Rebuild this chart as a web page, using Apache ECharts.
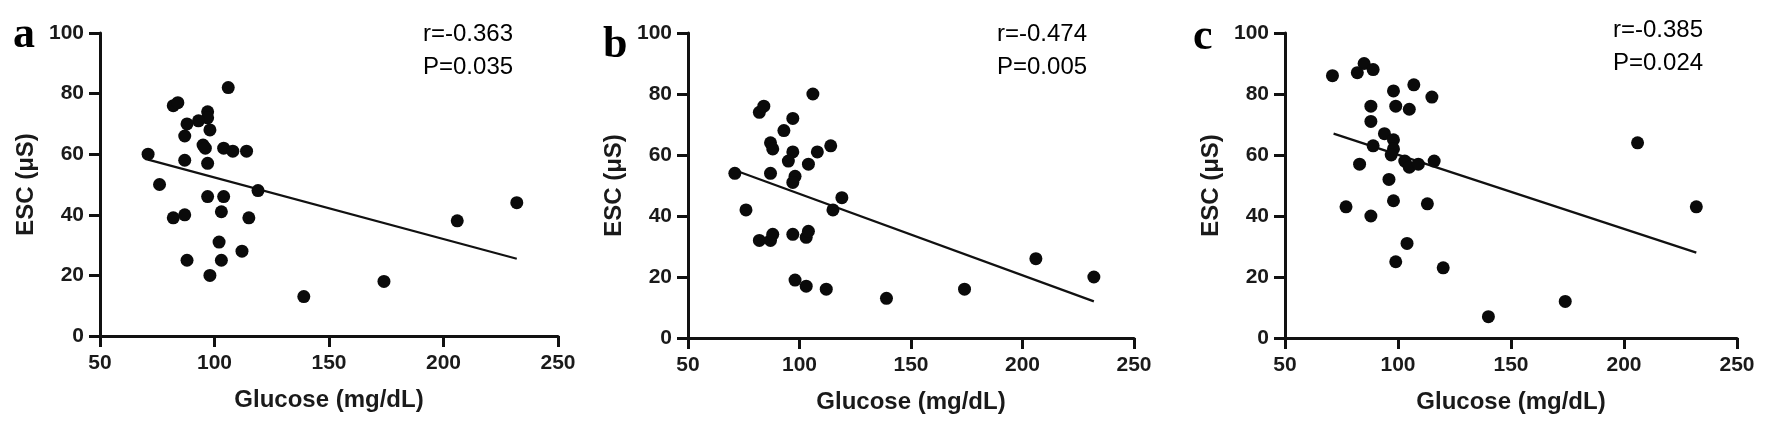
<!DOCTYPE html>
<html>
<head>
<meta charset="utf-8">
<script src="https://cdn.jsdelivr.net/npm/echarts@6/dist/echarts.min.js"></script>
<style>
  html, body { margin: 0; padding: 0; background: #fff; }
  #chart { width: 1772px; height: 427px; }
</style>
</head>
<body>
<div id="chart"></div>
<script>
// panel a
var glucoseA = [106, 82, 84, 97, 97, 93, 88, 98, 87, 95, 96, 104, 108, 114, 71, 87, 97, 76, 119, 97, 104, 103, 82, 87, 115, 102, 112, 88, 103, 98, 139, 174, 206, 232];
var escA     = [82, 76, 77, 74, 72, 71, 70, 68, 66, 63, 62, 62, 61, 61, 60, 58, 57, 50, 48, 46, 46, 41, 39, 40, 39, 31, 28, 25, 25, 20, 13, 18, 38, 44];
var fitA = [[71, 58.2], [232, 25.5]];

// panel b
var glucoseB = [106, 82, 84, 97, 93, 87, 88, 114, 97, 108, 95, 104, 71, 87, 98, 97, 119, 115, 76, 82, 87, 88, 97, 103, 104, 98, 103, 112, 139, 174, 206, 232];
var escB     = [80, 74, 76, 72, 68, 64, 62, 63, 61, 61, 58, 57, 54, 54, 53, 51, 46, 42, 42, 32, 32, 34, 34, 33, 35, 19, 17, 16, 13, 16, 26, 20];
var fitB = [[71, 55], [232, 12]];

// panel c
var glucoseC = [71, 85, 82, 89, 98, 107, 115, 88, 99, 105, 88, 94, 98, 89, 98, 97, 103, 105, 109, 116, 83, 96, 98, 113, 77, 88, 104, 99, 120, 140, 174, 206, 232];
var escC     = [86, 90, 87, 88, 81, 83, 79, 76, 76, 75, 71, 67, 65, 63, 62, 60, 58, 56, 57, 58, 57, 52, 45, 44, 43, 40, 31, 25, 23, 7, 12, 64, 43];
var fitC = [[71.5, 67], [232, 28]];

var xTicks = [50, 100, 150, 200, 250];
var yTicks = [0, 20, 40, 60, 80, 100];
var panelLetters = ['a', 'b', 'c'];
var rTexts = ['r=-0.363', 'r=-0.474', 'r=-0.385'];
var pTexts = ['P=0.035', 'P=0.005', 'P=0.024'];

function pairs(xs, ys) {
  return xs.map(function (x, i) { return [x, ys[i]]; });
}

var grids = [
  { left: 100, top: 33, width: 458, height: 303 },
  { left: 688, top: 33, width: 446, height: 305 },
  { left: 1285, top: 33, width: 452, height: 305 }
];

var axisLineStyle = { color: '#111', width: 3 };
var labelFont = { color: '#1a1a1a', fontFamily: 'Liberation Sans', fontWeight: 'bold', fontSize: 21 };

var xAxes = [], yAxes = [];
grids.forEach(function (g, i) {
  xAxes.push({
    type: 'value', gridIndex: i,
    min: xTicks[0], max: xTicks[xTicks.length - 1], interval: 50,
    name: 'Glucose (mg/dL)', nameLocation: 'middle', nameGap: 52,
    nameTextStyle: { color: '#1a1a1a', fontFamily: 'Liberation Sans', fontWeight: 'bold', fontSize: 24 },
    axisLine: { show: true, onZero: false, lineStyle: axisLineStyle },
    axisTick: { show: true, length: 11, lineStyle: axisLineStyle },
    axisLabel: Object.assign({ margin: 17 }, labelFont),
    splitLine: { show: false }
  });
  yAxes.push({
    type: 'value', gridIndex: i,
    min: yTicks[0], max: yTicks[yTicks.length - 1], interval: 20,
    name: 'ESC (μS)', nameLocation: 'middle', nameGap: 62,
    nameTextStyle: { color: '#1a1a1a', fontFamily: 'Liberation Sans', fontWeight: 'bold', fontSize: 24 },
    axisLine: { show: true, onZero: false, lineStyle: axisLineStyle },
    axisTick: { show: true, length: 11, lineStyle: axisLineStyle },
    axisLabel: Object.assign({ margin: 16 }, labelFont),
    splitLine: { show: false }
  });
});

var scatterSets = [pairs(glucoseA, escA), pairs(glucoseB, escB), pairs(glucoseC, escC)];
var fits = [fitA, fitB, fitC];

var series = [];
scatterSets.forEach(function (d, i) {
  series.push({
    type: 'line', xAxisIndex: i, yAxisIndex: i,
    data: fits[i], symbol: 'none', silent: true,
    lineStyle: { color: '#111', width: 2.2 }, z: 2
  });
  series.push({
    type: 'scatter', xAxisIndex: i, yAxisIndex: i,
    data: d, symbolSize: 13,
    itemStyle: { color: '#0a0a0a', opacity: 1 }, z: 3
  });
});

var letterPos = [[13, 14], [603, 24], [1193, 16]];
var annoX = [423, 997, 1613];
var annoY = [18, 18, 14];

var graphic = [];
grids.forEach(function (g, i) {
  graphic.push({
    type: 'text', left: letterPos[i][0], top: letterPos[i][1],
    style: { text: panelLetters[i], fill: '#000', font: 'bold 44px "Liberation Serif", "DejaVu Serif", serif' }
  });
  graphic.push({
    type: 'text', left: annoX[i], top: annoY[i],
    style: { text: rTexts[i] + '\n' + pTexts[i], fill: '#000', lineHeight: 33, font: '24px "Liberation Sans", Arial, sans-serif' }
  });
});

var chart = echarts.init(document.getElementById('chart'), null, { renderer: 'canvas' });
chart.setOption({
  backgroundColor: '#fff',
  animation: false,
  grid: grids,
  xAxis: xAxes,
  yAxis: yAxes,
  series: series,
  graphic: graphic
});
</script>
</body>
</html>
